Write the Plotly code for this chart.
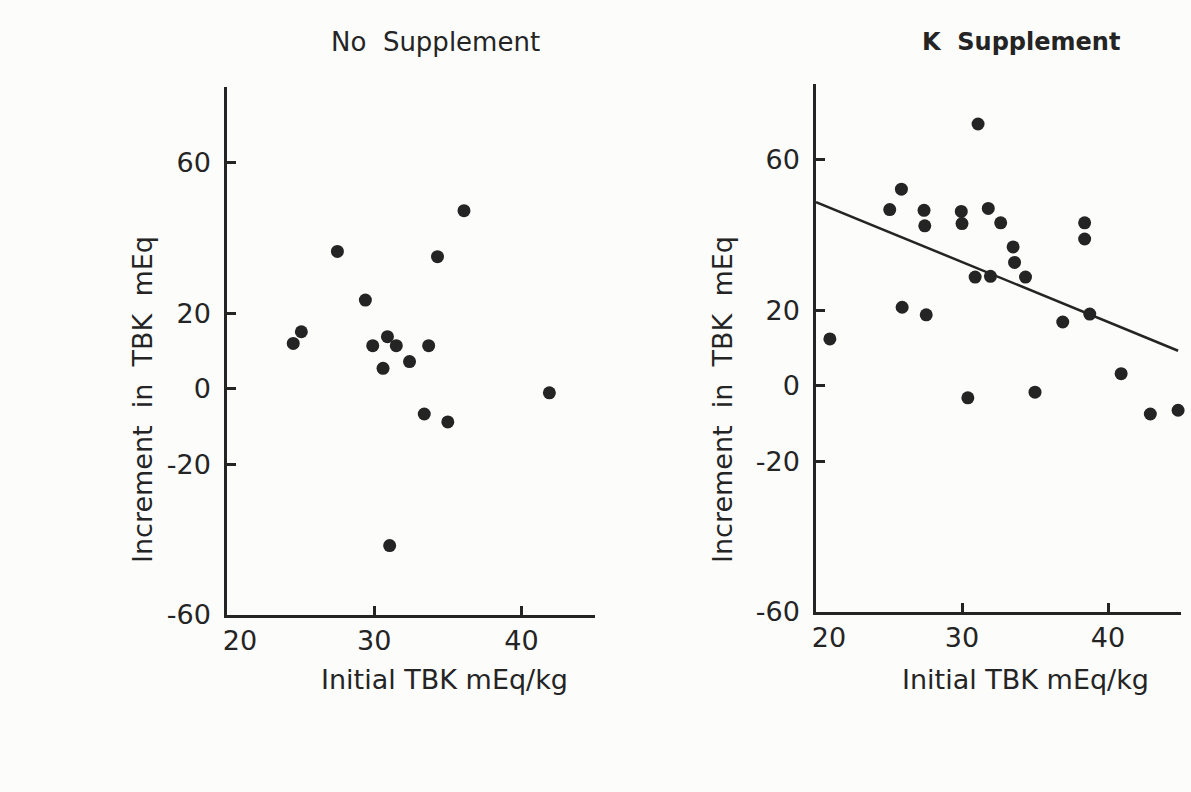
import plotly.graph_objects as go

# ---- data ----
no_supp_x = [36.1, 27.5, 34.3, 29.4, 25.05, 24.5, 29.9, 30.9, 31.5, 33.7, 32.4, 30.6, 41.9, 33.4, 35.0, 31.05]
no_supp_y = [47.2, 36.4, 35.0, 23.5, 15.1, 12.0, 11.4, 13.8, 11.4, 11.4, 7.2, 5.4, -1.1, -6.7, -8.8, -41.6]

k_supp_x = [31.1, 25.85, 25.05, 27.4, 27.45, 29.95, 30.0, 31.8, 32.65, 33.5, 33.6, 34.35, 30.9, 31.95,
            38.4, 38.4, 25.9, 27.55, 36.9, 38.75, 20.95, 30.4, 35.0, 40.9, 42.9, 44.8]
k_supp_y = [69.4, 52.1, 46.7, 46.5, 42.4, 46.2, 43.0, 47.0, 43.2, 36.8, 32.7, 28.8, 28.8, 29.0,
            43.2, 38.9, 20.8, 18.8, 16.9, 19.0, 12.4, -3.2, -1.7, 3.2, -7.5, -6.5]

fit_intercept = 80.5   # y at x = 0
fit_slope = -1.59
fit_x = [20.0, 44.8]
fit_y = [fit_intercept + fit_slope * v for v in fit_x]

x_tickvals = [20, 30, 40, 45]
x_ticktext = ["\u00a0\u00a0\u00a020", "30", "40", ""]
y_tickvals = [-60, -20, 0, 20, 60, 80]
y_ticktext = ["-60", "-20", "0", "20", "60", ""]

panel_titles = ["No\u00a0\u00a0Supplement", "<b>K\u00a0\u00a0Supplement</b>"]
x_title = "Initial TBK mEq/kg"
y_title = "Increment\u00a0\u00a0in\u00a0\u00a0TBK\u00a0\u00a0mEq"

# ---- style ----
INK = "#242424"
FONT = "DejaVu Sans"
W, H = 1191, 792

fig = go.Figure()

fig.add_trace(go.Scatter(x=no_supp_x, y=no_supp_y, mode="markers", xaxis="x", yaxis="y",
                         marker=dict(size=13, color=INK), cliponaxis=False, showlegend=False))
fig.add_trace(go.Scatter(x=k_supp_x, y=k_supp_y, mode="markers", xaxis="x2", yaxis="y2",
                         marker=dict(size=13, color=INK), cliponaxis=False, showlegend=False))
fig.add_trace(go.Scatter(x=fit_x, y=fit_y, mode="lines", xaxis="x2", yaxis="y2",
                         line=dict(color=INK, width=2.5), cliponaxis=False, showlegend=False))

def px_x(p):
    return p / W

def px_y(p):
    return 1 - p / H

common_x = dict(range=[20, 45], showgrid=False, zeroline=False, showline=True, linecolor=INK,
                linewidth=2.5, ticks="inside", ticklen=9, tickwidth=2.5, tickcolor=INK,
                tickvals=x_tickvals, ticktext=x_ticktext, ticklabelstandoff=0, automargin=False,
                tickfont=dict(family=FONT, size=27, color=INK))
common_y = dict(range=[-60, 80], showgrid=False, zeroline=False, showline=True, linecolor=INK,
                linewidth=2.5, ticks="inside", ticklen=9, tickwidth=2.5, tickcolor=INK,
                tickvals=y_tickvals, ticktext=y_ticktext, ticklabelstandoff=8, automargin=False,
                tickfont=dict(family=FONT, size=27, color=INK))

fig.update_layout(
    width=W, height=H,
    margin=dict(l=0, r=0, t=0, b=0, pad=0, autoexpand=False),
    paper_bgcolor="#fcfcfb", plot_bgcolor="#fcfcfb",
    xaxis=dict(domain=[px_x(227), px_x(595)], anchor="y", **common_x),
    yaxis=dict(domain=[px_y(615), px_y(87)], anchor="x", **common_y),
    xaxis2=dict(domain=[px_x(816), px_x(1181)], anchor="y2", **common_x),
    yaxis2=dict(domain=[px_y(612), px_y(84)], anchor="x2", **common_y),
    font=dict(family=FONT, color=INK),
)

annots = [
    dict(text=panel_titles[0], x=px_x(435), y=px_y(42), size=26, angle=0),
    dict(text=panel_titles[1], x=px_x(1021), y=px_y(42), size=24, angle=0),
    dict(text=x_title, x=px_x(444), y=px_y(679), size=27, angle=0),
    dict(text=x_title, x=px_x(1025), y=px_y(679), size=27, angle=0),
    dict(text=y_title, x=px_x(142), y=px_y(400), size=27, angle=-90),
    dict(text=y_title, x=px_x(722), y=px_y(400), size=27, angle=-90),
]
for a in annots:
    fig.add_annotation(text=a["text"], x=a["x"], y=a["y"], xref="paper", yref="paper",
                       xanchor="center", yanchor="middle", showarrow=False, textangle=a["angle"],
                       font=dict(family=FONT, size=a["size"], color=INK))

fig.write_html("out.html")
